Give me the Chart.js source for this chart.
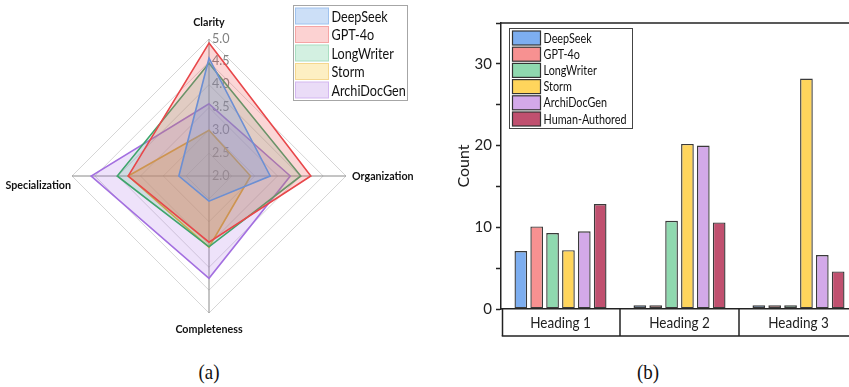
<!DOCTYPE html>
<html><head><meta charset="utf-8">
<script src="https://cdn.jsdelivr.net/npm/chart.js@4"></script>
<style>
html,body{margin:0;padding:0;background:#fff;width:849px;height:387px;overflow:hidden;}
#radarBox{position:absolute;left:0;top:0;width:430px;height:345px;}
#barBox{position:absolute;left:440px;top:0;width:409px;height:345px;overflow:hidden;}
.cap{position:absolute;top:360px;line-height:24px;font-family:"Liberation Serif",serif;font-size:21px;color:#111;transform:translateX(-50%) scaleX(0.9);}
</style></head><body>
<div id="radarBox"><canvas id="radar" width="430" height="345"></canvas></div>
<div id="barBox"><canvas id="bar" width="440" height="345"></canvas></div>
<div class="cap" style="left:209px">(a)</div>
<div class="cap" style="left:648px">(b)</div>
<script>
// ---- (a) radar: quality scores per criterion ----
const criteria = ['Clarity', 'Organization', 'Completeness', 'Specialization'];
const radarTicks = [2.0, 2.5, 3.0, 3.5, 4.0, 4.5, 5.0];
const radarModels = ['DeepSeek', 'GPT-4o', 'LongWriter', 'Storm', 'ArchiDocGen'];
const deepseekScores    = [4.58, 3.34, 2.55, 2.66];
const gpt4oScores       = [4.91, 4.23, 3.45, 3.77];
const longwriterScores  = [4.47, 4.01, 3.55, 4.01];
const stormScores       = [3.00, 2.91, 3.56, 3.77];
const archidocgenScores = [3.58, 3.78, 4.24, 4.58];

// ---- (b) bars: heading counts ----
const headings = ['Heading 1', 'Heading 2', 'Heading 3'];
const barModels = ['DeepSeek', 'GPT-4o', 'LongWriter', 'Storm', 'ArchiDocGen', 'Human-Authored'];
const deepseekCounts    = [7.1, 0.45, 0.45];
const gpt4oCounts       = [10.1, 0.45, 0.45];
const longwriterCounts  = [9.3, 10.8, 0.45];
const stormCounts       = [7.2, 20.2, 28.2];
const archidocgenCounts = [9.5, 20.0, 6.6];
const humanCounts       = [12.85, 10.6, 4.6];
const countTicks = [0, 10, 20, 30];

// styles
const radarStyle = [
  {line: '#6C8FD3', fill: 'rgba(100,150,230,0.25)', key: '#CCDFF7', keyBorder: '#9FC2EE'},
  {line: '#E8474A', fill: 'rgba(240,90,90,0.25)',  key: '#FCD2D2', keyBorder: '#F5A5A5'},
  {line: '#3EA56C', fill: 'rgba(80,190,130,0.2)',  key: '#D3F0E1', keyBorder: '#A9DEC1'},
  {line: '#DFA240', fill: 'rgba(230,170,60,0.25)', key: '#FDEFC3', keyBorder: '#F5D78E'},
  {line: '#A36FE0', fill: 'rgba(170,110,230,0.2)', key: '#EADCF7', keyBorder: '#D3B7F0'}
];
const barColors = ['#7DAEF0', '#F79191', '#8FD9AF', '#FFD55C', '#D3A9E9', '#C0506F'];
const ink = '#222';

// text drawn slightly condensed horizontally
function narrowText(ctx, text, x, y, align, sx) {
  ctx.save();
  ctx.translate(x, y);
  ctx.scale(sx, 1);
  ctx.textAlign = align;
  ctx.fillText(text, 0, 0);
  ctx.restore();
}

const radarSeries = [deepseekScores, gpt4oScores, longwriterScores, stormScores, archidocgenScores];

const radarDecor = {
  id: 'radarDecor',
  beforeDatasetsDraw(chart) {
    const s = chart.scales.r, ctx = chart.ctx;
    ctx.save();
    ctx.font = '14px Lato';
    ctx.fillStyle = '#808080';
    ctx.textBaseline = 'middle';
    radarTicks.forEach(v => {
      const p = s.getPointPositionForValue(0, v);
      narrowText(ctx, v.toFixed(1), p.x + 3, p.y - 1, 'left', 0.9);
    });
    ctx.restore();
  },
  afterDraw(chart) {
    const s = chart.scales.r, ctx = chart.ctx;
    const top = s.getPointPositionForValue(0, s.max);
    const right = s.getPointPositionForValue(1, s.max);
    const bottom = s.getPointPositionForValue(2, s.max);
    const left = s.getPointPositionForValue(3, s.max);
    ctx.save();
    ctx.font = 'bold 11.5px Lato';
    ctx.fillStyle = '#111';
    ctx.textBaseline = 'middle';
    narrowText(ctx, criteria[0], top.x, top.y - 17, 'center', 0.93);
    narrowText(ctx, criteria[1], right.x + 6, right.y, 'left', 0.93);
    narrowText(ctx, criteria[2], bottom.x, bottom.y + 16, 'center', 0.93);
    narrowText(ctx, criteria[3], left.x - 1, left.y + 9, 'right', 0.93);

    // legend box
    const bx = 293.5, by = 5.5, bw = 114, bh = 95;
    ctx.strokeStyle = '#A6A6A6';
    ctx.lineWidth = 1;
    ctx.strokeRect(bx, by, bw, bh);
    ctx.font = '14.5px Lato';
    radarModels.forEach((name, i) => {
      const cy = 16 + i * 18.5;
      ctx.fillStyle = radarStyle[i].key;
      ctx.fillRect(bx + 2, cy - 8, 33, 16);
      ctx.strokeStyle = radarStyle[i].keyBorder;
      ctx.strokeRect(bx + 2, cy - 8, 33, 16);
      ctx.fillStyle = '#111';
      narrowText(ctx, name, bx + 38, cy + 1, 'left', 0.87);
    });
    ctx.restore();
  }
};

new Chart(document.getElementById('radar'), {
  type: 'radar',
  data: {
    labels: criteria,
    datasets: radarModels.map((name, i) => ({
      label: name,
      data: radarSeries[i],
      borderColor: radarStyle[i].line,
      backgroundColor: radarStyle[i].fill,
      borderWidth: 1.6,
      pointRadius: 0,
      fill: true
    }))
  },
  options: {
    responsive: false,
    animation: false,
    layout: {padding: {left: 72, top: 39, right: 84, bottom: 32}},
    plugins: {legend: {display: false}, tooltip: {enabled: false}},
    scales: {
      r: {
        min: 2, max: 5,
        ticks: {stepSize: 0.5, display: false},
        pointLabels: {display: false},
        grid: {color: '#D6D6D6', lineWidth: 1},
        angleLines: {color: '#8A8A8A', lineWidth: 1}
      }
    }
  },
  plugins: [radarDecor]
});

const barSeries = [deepseekCounts, gpt4oCounts, longwriterCounts, stormCounts, archidocgenCounts, humanCounts];

const barDecor = {
  id: 'barDecor',
  afterDraw(chart) {
    const {ctx, chartArea: a, scales: {x}} = chart;
    const line = (x1, y1, x2, y2) => { ctx.beginPath(); ctx.moveTo(x1, y1); ctx.lineTo(x2, y2); ctx.stroke(); };
    ctx.save();
    ctx.strokeStyle = ink;
    ctx.lineWidth = 1.5;
    line(a.left - 0.75, a.top, a.right + 5, a.top);
    const w = (a.right - a.left) / headings.length;
    for (let i = 0; i <= headings.length; i++) {
      const xi = i === 0 ? a.left + 1.5 : x.getPixelForValue(i - 1) + w / 2;
      line(xi, a.bottom, xi, x.bottom);
    }
    line(a.left + 0.75, x.bottom, a.right + 5, x.bottom);

    // category names inside the boxed row
    ctx.font = '15px Lato';
    ctx.fillStyle = ink;
    ctx.textBaseline = 'middle';
    headings.forEach((h, i) => {
      narrowText(ctx, h, x.getPixelForValue(i), (a.bottom + x.bottom) / 2 + 1, 'center', 0.9);
    });

    // legend
    const bx = a.left + 8.5, by = a.top + 5.5, bw = 123, bh = 100;
    ctx.lineWidth = 1;
    ctx.strokeStyle = '#444';
    ctx.strokeRect(bx, by, bw, bh);
    ctx.font = '13px Lato';
    barModels.forEach((name, i) => {
      const cy = by + 9.5 + i * 16.2;
      ctx.fillStyle = barColors[i];
      ctx.fillRect(bx + 3, cy - 7, 28, 14);
      ctx.strokeStyle = '#333';
      ctx.lineWidth = 1.2;
      ctx.strokeRect(bx + 3, cy - 7, 28, 14);
      ctx.fillStyle = '#111';
      narrowText(ctx, name, bx + 34, cy + 0.5, 'left', 0.83);
    });
    ctx.restore();
  }
};

new Chart(document.getElementById('bar'), {
  type: 'bar',
  data: {
    labels: headings,
    datasets: barModels.map((name, i) => ({
      label: name,
      data: barSeries[i],
      backgroundColor: barColors[i],
      borderColor: '#3A3A3A',
      borderWidth: 1.4,
      borderSkipped: false,
      categoryPercentage: 0.8,
      barPercentage: 0.8
    }))
  },
  options: {
    responsive: false,
    animation: false,
    layout: {padding: {left: 0, top: 23, right: 22, bottom: 9}},
    plugins: {legend: {display: false}, tooltip: {enabled: false}},
    scales: {
      x: {
        ticks: {display: false},
        grid: {display: false, drawTicks: false},
        border: {color: ink, width: 1.5},
        afterFit(s) { s.height = 27; }
      },
      y: {
        min: 0, max: 35,
        ticks: {
          stepSize: 5,
          font: {family: 'Lato', size: 15},
          color: ink,
          padding: 4,
          callback: v => countTicks.includes(v) ? String(v) : ''
        },
        grid: {drawOnChartArea: false, tickLength: 5, tickColor: ink, tickWidth: 1.5},
        border: {color: ink, width: 1.5},
        title: {display: true, text: 'Count', font: {family: 'Lato', size: 16}, color: ink, padding: {top: 14, bottom: 0}},
        afterFit(s) { s.width = 61; }
      }
    }
  },
  plugins: [barDecor]
});
</script>
</body></html>
